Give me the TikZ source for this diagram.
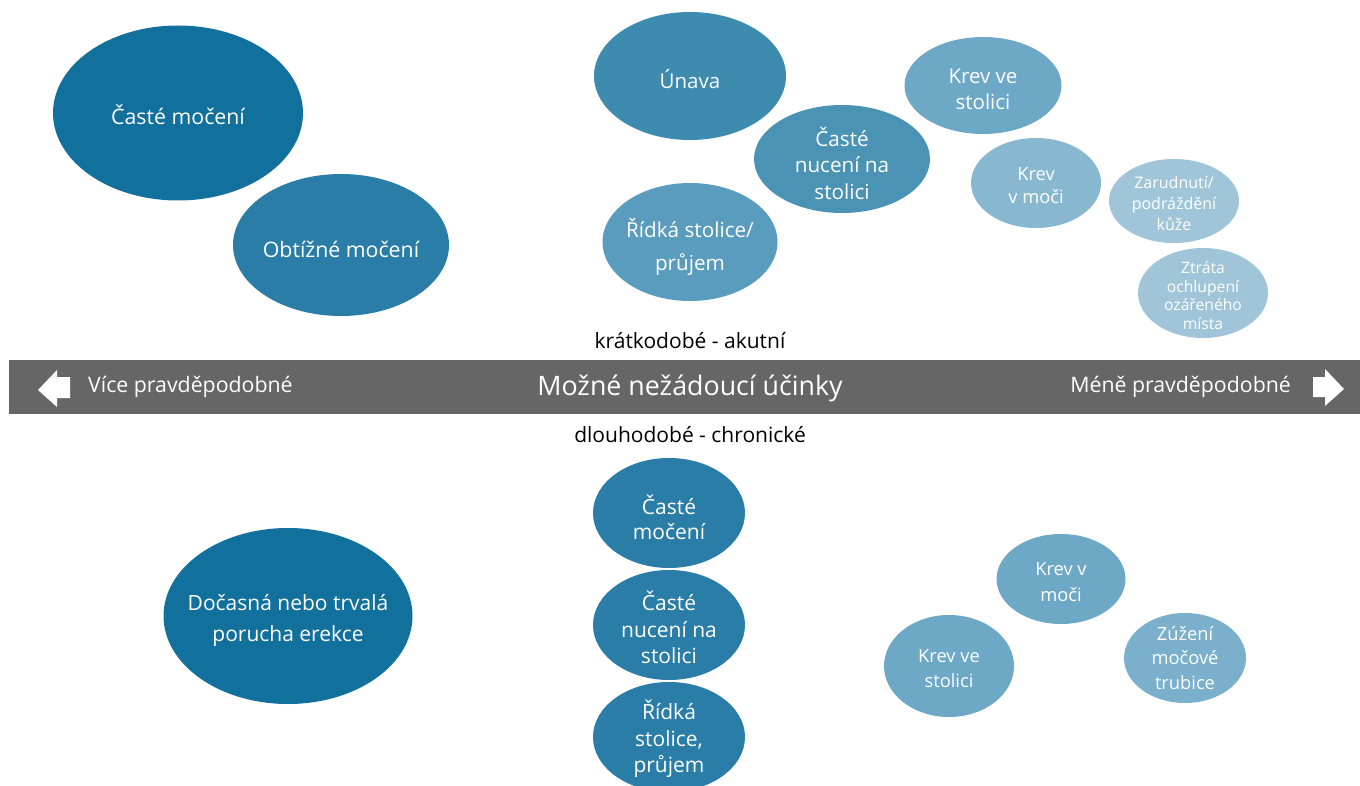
\documentclass[tikz,border=0pt]{standalone}
\usepackage{fontspec}
\setmainfont{Open Sans}
\usetikzlibrary{shapes.geometric}
\definecolor{cA}{HTML}{11709C}
\definecolor{cB}{HTML}{2A7DA6}
\definecolor{cC}{HTML}{3E8BB0}
\definecolor{cD}{HTML}{4A93B5}
\definecolor{cE}{HTML}{5A9CBD}
\definecolor{cF}{HTML}{6DA8C6}
\definecolor{cG}{HTML}{88B7D0}
\definecolor{cH}{HTML}{A0C5D9}
\definecolor{cI}{HTML}{7AB0CC}
\definecolor{barc}{HTML}{666666}
\tikzset{
  bub/.style n args={3}{ellipse, fill=#1, draw=none, inner sep=0pt,
    minimum width=#2pt, minimum height=#3pt},
  txt/.style n args={2}{text=white, align=center, inner sep=0pt,
    font=\fontsize{#1}{#2}\selectfont},
  lbl/.style={text=black, inner sep=0pt, font=\fontsize{21}{25}\selectfont},
  barlbl/.style={text=white, inner sep=0pt, font=\fontsize{21.3}{25}\selectfont},
}
\begin{document}
\begin{tikzpicture}[x=1pt,y=-1pt]
\useasboundingbox (0,0) rectangle (1360,786);
% top bubbles
\node[bub={cA}{250}{175}] (t1) at (178,113) {};
\node[txt={21.3}{27}] (t1x) at (178,114.5) {Časté močení};
\node[bub={cB}{216}{142}] (t2) at (341,245) {};
\node[txt={21.3}{27}] (t2x) at (341,249) {Obtížné močení};
\node[bub={cC}{192}{128}] (t3) at (690,76) {};
\node[txt={20.5}{27}] (t3x) at (690,79.5) {Únava};
\node[bub={cD}{176}{108}] (t4) at (842,159) {};
\node[txt={20.7}{26.5}] (t4x) at (842,163) {Časté\\nucení na\\stolici};
\node[bub={cE}{175}{118}] (t5) at (690,242) {};
\node[txt={20.7}{33}] (t5x) at (690,246.5) {Řídká stolice/\\průjem};
\node[bub={cF}{157}{97}] (t6) at (983,85.5) {};
\node[txt={20.5}{26}] (t6x) at (983,89.5) {Krev ve\\stolici};
\node[bub={cG}{130}{90}] (t7) at (1036,183) {};
\node[txt={18.3}{23}] (t7x) at (1036,185.5) {Krev\\v moči};
\node[bub={cH}{130}{84}] (t8) at (1174,201) {};
\node[txt={16}{21}] (t8x) at (1174,203.5) {Zarudnutí/\\podráždění\\kůže};
\node[bub={cH}{130}{90}] (t9) at (1203,293) {};
\node[txt={15.7}{18.7}] (t9x) at (1203,295.5) {Ztráta\\ochlupení\\ozářeného\\místa};
% labels
\node[lbl] (short) at (690,341) {krátkodobé - akutní};
\node[lbl] (long) at (690,435) {dlouhodobé - chronické};
% bar
\fill[barc] (9,360) rectangle (1360,414);
\node[barlbl, font=\fontsize{26.8}{30}\selectfont] (title) at (690,388) {Možné nežádoucí účinky};
\node[barlbl, anchor=west] (more) at (88,387) {Více pravděpodobné};
\node[barlbl, anchor=east] (less) at (1291,387) {Méně pravděpodobné};
\fill[white] (38,390) -- (57,370) -- (57,377) -- (70,377) -- (70,398) -- (57,398) -- (57,407) -- cycle;
\fill[white] (1344,389) -- (1325,369) -- (1325,377) -- (1313,377) -- (1313,397) -- (1325,397) -- (1325,406) -- cycle;
% bottom bubbles
\node[bub={cA}{249}{176}] (b1) at (288,616) {};
\node[txt={21}{31}] (b1x) at (288,620) {Dočasná nebo trvalá\\porucha erekce};
\node[bub={cB}{152}{110}] (b2) at (669,513) {};
\node[txt={21}{25}] (b2x) at (669,517) {Časté\\močení};
\node[bub={cB}{152}{110}] (b3) at (669,625) {};
\node[txt={21}{26.5}] (b3x) at (669,627.5) {Časté\\nucení na\\stolici};
\node[bub={cB}{152}{110}] (b4) at (669,737) {};
\node[txt={21}{26.5}] (b4x) at (669,739) {Řídká\\stolice,\\průjem};
\node[bub={cF}{129}{90}] (b5) at (1061,579) {};
\node[txt={18.3}{26}] (b5x) at (1061,582) {Krev v\\moči};
\node[bub={cF}{130}{102}] (b6) at (949,666) {};
\node[txt={18.3}{25}] (b6x) at (949,669) {Krev ve\\stolici};
\node[bub={cI}{122}{90}] (b7) at (1185,658) {};
\node[txt={18.3}{24.5}] (b7x) at (1185,658) {Zúžení\\močové\\trubice};
\end{tikzpicture}
\end{document}
